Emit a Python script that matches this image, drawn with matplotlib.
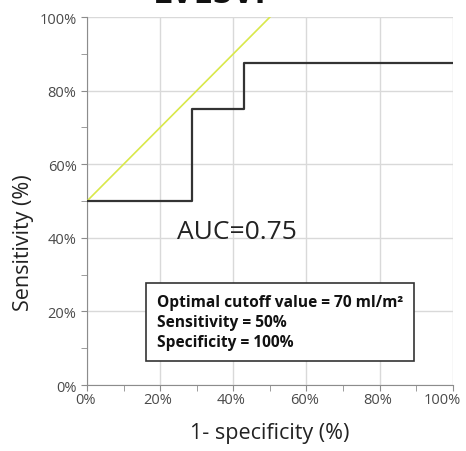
import matplotlib
matplotlib.use("Agg")
import matplotlib.pyplot as plt
from matplotlib.ticker import MultipleLocator, PercentFormatter
from matplotlib.transforms import ScaledTranslation

# ROC step curve (1 - specificity, sensitivity), in %
fpr = [0, 28.6, 28.6, 42.9, 42.9, 100]
tpr = [50, 50, 75, 75, 87.5, 87.5]

# reference line from the cutoff point
ref_x = [0, 50]
ref_y = [50, 100]

auc_text = "AUC=0.75"
box_lines = ["Optimal cutoff value = 70 ml/m\u00b2",
             "Sensitivity = 50%",
             "Specificity = 100%"]

plt.rcParams['font.family'] = ['Open Sans', 'DejaVu Sans']

fig = plt.figure(figsize=(4.66, 4.52), dpi=100)
ax = fig.add_axes([0.1867, 0.146, 0.785, 0.814])

ax.plot(ref_x, ref_y, color="#d9e84a", lw=1.2, zorder=3)
ax.plot(fpr, tpr, color="#333333", lw=1.6, zorder=4)

ax.set_xlim(0, 100)
ax.set_ylim(0, 100)
ax.xaxis.set_major_locator(MultipleLocator(20))
ax.yaxis.set_major_locator(MultipleLocator(20))
ax.xaxis.set_minor_locator(MultipleLocator(10))
ax.yaxis.set_minor_locator(MultipleLocator(10))
ax.xaxis.set_major_formatter(PercentFormatter(decimals=0))
ax.yaxis.set_major_formatter(PercentFormatter(decimals=0))
ax.grid(True, which="major", color="#d9d9d9", lw=1.0)
ax.set_axisbelow(True)

for s in ["top", "right"]:
    ax.spines[s].set_visible(False)
for s in ["left", "bottom"]:
    ax.spines[s].set_color("#8c8c8c")
ax.tick_params(which="both", colors="#8c8c8c", labelcolor="#4a4a4a",
               labelsize=10.5, length=4, direction="out")
ax.tick_params(axis="x", pad=1)

ax.set_xlabel("1- specificity (%)", fontsize=15.5, color="#222222")
ax.set_ylabel("Sensitivity (%)", fontsize=15.5, color="#222222")
ax.xaxis.set_label_coords(0.5, -0.10)
ax.yaxis.set_label_coords(-0.145, 0.39)

ax.text(24.5, 41.7, auc_text, fontsize=19, color="#222222", va="center")

ax.text(19, 17.1, "\n".join(box_lines), fontsize=11.2, fontweight="bold",
        color="#111111", va="center", ha="left", linespacing=1.32,
        bbox=dict(boxstyle="square,pad=0.7", fc="white", ec="#333333", lw=1.2))

# title cut off at the top of the image
fig.text(210 / 466, 0.993, "LVESVi", fontsize=25, fontweight="bold",
         ha="center", va="baseline", color="#111111")

# excel nudges the x labels left a bit, the last one most
fig.canvas.draw()
xlabels = ax.xaxis.get_majorticklabels()
for i, lab in enumerate(xlabels):
    dx = -11 if lab.get_text() == "100%" else -2
    lab.set_transform(lab.get_transform() +
                      ScaledTranslation(dx / 100, 0, fig.dpi_scale_trans))

fig.savefig("out.png", dpi=100)
